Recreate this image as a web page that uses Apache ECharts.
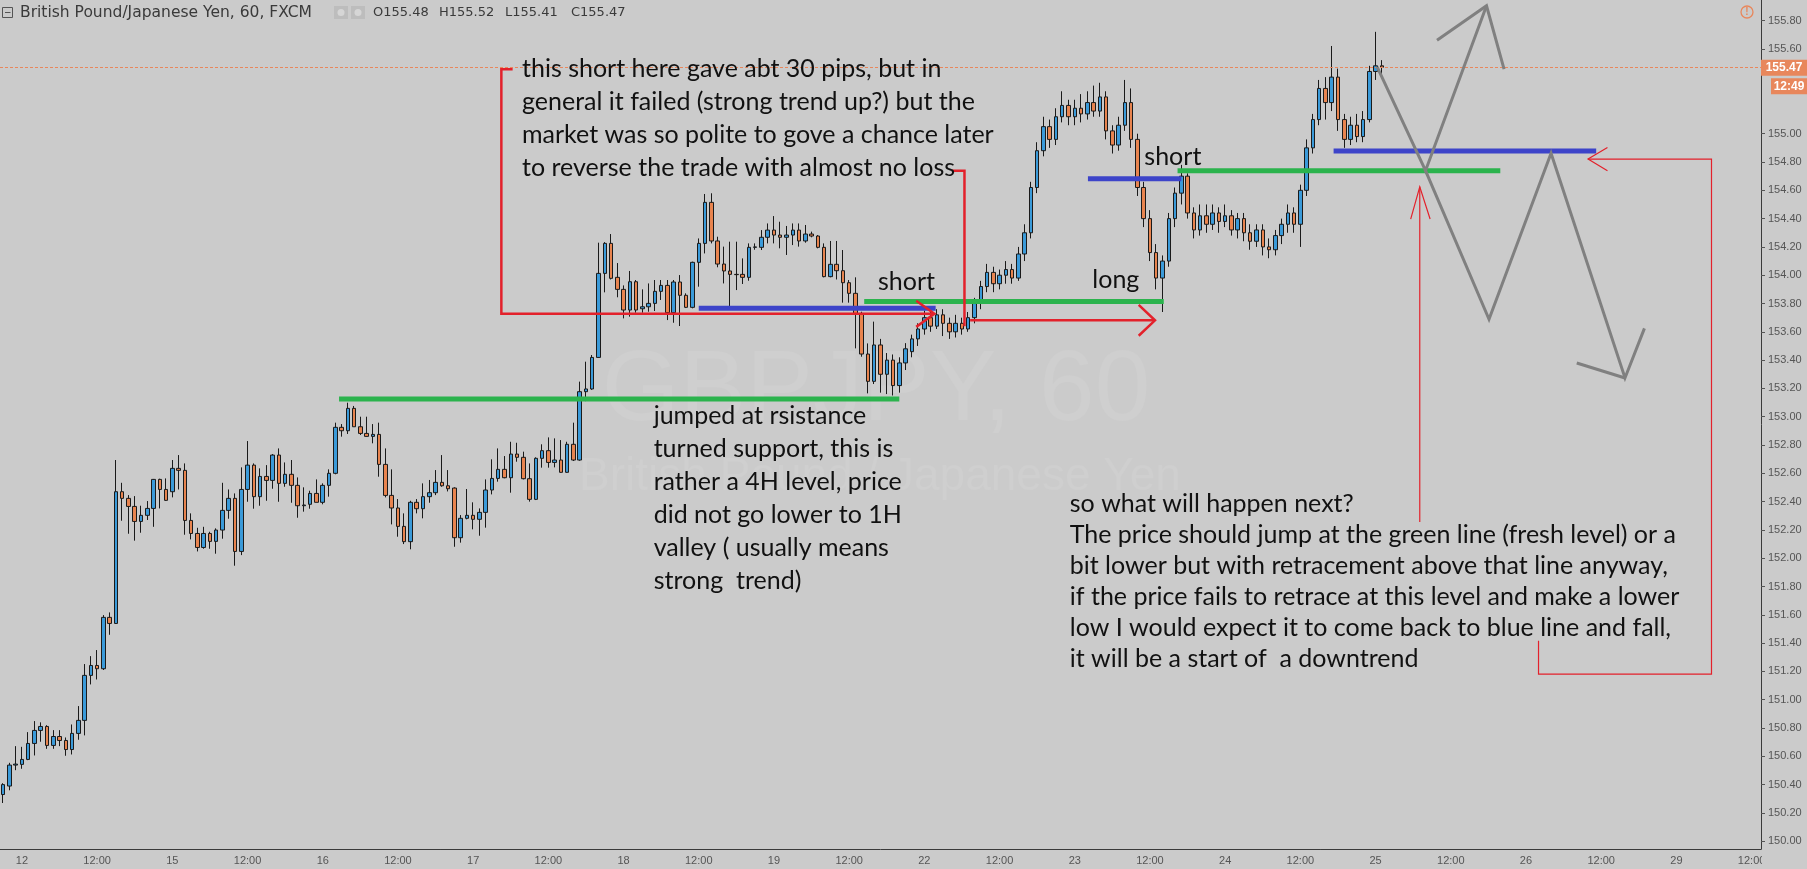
<!DOCTYPE html>
<html><head><meta charset="utf-8">
<script src="https://cdn.jsdelivr.net/npm/echarts@6/dist/echarts.min.js"></script>
<style>html,body{margin:0;padding:0;background:#cbcbcb;}#c{width:1807px;height:869px;}</style>
</head><body><div id="c"></div>
<script>
// ---- tick label data ----
const tradingDays = ['11','12','15','16','17','18','19','22','23','24','25','26','29'];
const firstIndex = -3;      // first slot = day 11, 21:00
const lastIndex = 277;      // last slot visible
const yTickValues = [150.0,150.2,150.4,150.6,150.8,151.0,151.2,151.4,151.6,151.8,152.0,152.2,152.4,152.6,152.8,153.0,153.2,153.4,153.6,153.8,154.0,154.2,154.4,154.6,154.8,155.0,155.6,155.8];
const lastPrice = 155.47;
const titleText = 'British Pound/Japanese Yen, 60, FXCM';
const headerValues = ['O155.48','H155.52','L155.41','C155.47'];

// ---- candles (hourly), from index -3 ----
const opens = [150.33,150.39,150.538,150.543,150.578,150.691,150.783,150.811,150.677,150.74,150.712,150.648,150.762,150.854,151.172,151.242,151.219,151.582,151.539,152.47,152.423,152.366,152.26,152.303,152.352,152.557,152.486,152.47,152.635,152.621,152.267,152.175,152.076,152.175,152.119,152.199,152.338,152.423,152.048,152.486,152.658,152.435,152.578,152.55,152.729,152.529,152.593,152.515,152.371,152.381,152.458,152.395,152.515,152.6,152.925,152.901,153.059,152.929,152.882,152.861,152.875,152.663,152.444,152.355,152.225,152.117,152.395,152.35,152.435,152.463,152.536,152.512,152.496,152.145,152.282,152.303,152.275,152.324,152.482,152.564,152.628,152.569,152.736,152.713,152.562,152.416,152.706,152.76,152.677,152.694,152.607,152.805,152.694,153.177,153.196,153.419,154.013,154.225,153.985,153.9,153.754,153.954,153.763,153.777,153.801,153.886,153.928,153.735,153.952,153.858,153.773,154.091,154.225,154.515,154.242,154.079,154.03,154.006,154.006,153.985,154.197,154.197,154.268,154.319,154.284,154.268,154.284,154.319,154.242,154.291,154.277,154.197,153.99,154.077,154.032,153.947,153.872,153.73,153.443,153.25,
153.507,153.30,153.40,153.22,153.38,153.46,153.55,153.62,153.70,153.64,153.72,153.66,153.60,153.66,153.62,153.70,153.80,153.92,154.02,153.94,154.00,154.04,153.98,154.15,154.30,154.62,154.88,155.05,154.96,155.12,155.20,155.12,155.18,155.14,155.22,155.16,155.26,155.02,154.92,155.06,155.22,154.96,154.62,154.40,154.16,153.98,154.10,154.40,154.58,154.70,154.44,154.32,154.42,154.36,154.44,154.38,154.42,154.32,154.40,154.30,154.24,154.32,154.20,154.18,154.28,154.36,154.44,154.36,154.60,154.90,155.10,155.32,155.22,155.40,155.10,154.96,155.06,154.98,155.10,155.44,155.48];
const closes = [150.40,150.538,150.545,150.578,150.691,150.783,150.811,150.677,150.74,150.712,150.648,150.762,150.854,151.172,151.242,151.219,151.582,151.539,152.47,152.423,152.366,152.26,152.303,152.352,152.557,152.486,152.409,152.635,152.621,152.267,152.175,152.076,152.175,152.119,152.199,152.338,152.423,152.048,152.486,152.658,152.435,152.578,152.55,152.729,152.529,152.593,152.515,152.371,152.376,152.458,152.395,152.515,152.6,152.925,152.901,153.059,152.929,152.882,152.861,152.875,152.663,152.444,152.355,152.225,152.117,152.395,152.35,152.435,152.463,152.536,152.512,152.491,152.145,152.282,152.303,152.275,152.324,152.482,152.564,152.628,152.569,152.736,152.713,152.562,152.416,152.706,152.76,152.677,152.694,152.607,152.805,152.694,153.177,153.196,153.419,154.013,154.225,153.978,153.9,153.754,153.954,153.754,153.777,153.801,153.886,153.928,153.735,153.952,153.858,153.773,154.091,154.225,154.515,154.242,154.079,154.03,154.006,154.004,153.985,154.197,154.2,154.268,154.319,154.284,154.268,154.284,154.319,154.242,154.291,154.277,154.197,153.99,154.077,154.032,153.947,153.872,153.73,153.443,153.25,153.507,
153.30,153.40,153.22,153.38,153.48,153.55,153.62,153.70,153.64,153.72,153.66,153.60,153.66,153.62,153.70,153.80,153.92,154.02,153.94,154.00,154.04,153.98,154.15,154.30,154.62,154.88,155.05,154.96,155.12,155.20,155.12,155.18,155.14,155.22,155.16,155.26,155.02,154.92,155.06,155.22,154.96,154.62,154.40,154.16,153.98,154.10,154.40,154.58,154.70,154.44,154.32,154.42,154.36,154.44,154.38,154.42,154.32,154.40,154.30,154.24,154.32,154.20,154.18,154.28,154.36,154.44,154.36,154.60,154.90,155.10,155.32,155.22,155.40,155.10,154.96,155.06,154.98,155.10,155.44,155.48,155.47];
const lows = [150.27,150.36,150.502,150.512,150.573,150.606,150.703,150.653,150.653,150.672,150.604,150.613,150.717,150.748,151.108,151.143,151.21,151.459,151.535,152.265,152.173,152.124,152.18,152.27,152.222,152.352,152.405,152.43,152.486,152.166,152.133,152.048,152.067,152.067,152.032,152.138,152.279,151.947,152.022,152.399,152.35,152.371,152.406,152.491,152.399,152.505,152.392,152.286,152.329,152.35,152.395,152.381,152.435,152.593,152.859,152.878,152.929,152.871,152.859,152.812,152.576,152.43,152.239,152.152,152.1,152.063,152.317,152.282,152.392,152.446,152.505,152.472,152.081,152.11,152.275,152.204,152.159,152.216,152.451,152.541,152.565,152.463,152.682,152.557,152.4,152.411,152.64,152.64,152.642,152.605,152.604,152.687,152.689,153.11,153.19,153.415,153.879,153.97,153.844,153.695,153.707,153.735,153.735,153.742,153.747,153.825,153.683,153.664,153.641,153.768,153.766,153.919,154.154,154.225,154.056,153.942,153.777,153.895,153.938,153.961,154.18,154.178,154.225,154.225,154.19,154.143,154.213,154.202,154.23,154.268,154.19,153.985,153.985,153.97,153.806,153.806,153.483,153.424,153.165,153.231,
153.17,153.16,153.15,153.17,153.33,153.42,153.50,153.58,153.60,153.62,153.57,153.55,153.56,153.58,153.60,153.66,153.76,153.88,153.88,153.90,153.94,153.94,153.96,154.10,154.26,154.58,154.84,154.90,154.92,155.08,155.06,155.06,155.08,155.10,155.12,155.12,154.96,154.86,154.88,155.02,154.90,154.56,154.34,154.10,153.90,153.74,154.06,154.34,154.50,154.40,154.26,154.28,154.30,154.32,154.30,154.34,154.28,154.26,154.24,154.18,154.20,154.14,154.12,154.14,154.22,154.30,154.30,154.20,154.56,154.86,155.06,155.10,155.16,155.02,154.90,154.92,154.94,154.94,155.08,155.38,155.41];
const highs = [150.41,150.554,150.672,150.667,150.771,150.849,150.84,150.82,150.785,150.785,150.733,150.825,150.955,151.252,151.308,151.351,151.598,151.617,152.694,152.533,152.446,152.439,152.371,152.404,152.56,152.562,152.564,152.694,152.729,152.67,152.317,152.215,152.222,152.187,152.211,152.533,152.486,152.458,152.642,152.828,152.67,152.635,152.658,152.736,152.776,152.677,152.694,152.571,152.501,152.477,152.557,152.529,152.628,152.958,152.948,153.099,153.076,153.0,153.0,152.948,152.958,152.776,152.628,152.418,152.317,152.406,152.418,152.529,152.553,152.623,152.729,152.623,152.501,152.305,152.489,152.395,152.352,152.557,152.699,152.776,152.722,152.823,152.816,152.753,152.67,152.713,152.805,152.854,152.847,152.835,152.823,152.958,153.248,153.389,153.436,154.23,154.234,154.291,154.086,153.928,154.03,153.966,153.9,153.942,153.966,153.966,153.966,153.966,154.001,153.872,154.096,154.26,154.574,154.579,154.272,154.202,154.237,154.237,154.119,154.225,154.225,154.319,154.366,154.418,154.378,154.348,154.366,154.366,154.355,154.308,154.284,154.225,154.242,154.242,154.178,153.966,153.985,153.742,153.518,153.672,
153.55,153.45,153.44,153.42,153.52,153.58,153.66,153.75,153.78,153.76,153.76,153.70,153.72,153.70,153.74,153.84,153.96,154.08,154.06,154.04,154.10,154.08,154.20,154.36,154.66,154.94,155.12,155.10,155.18,155.30,155.24,155.24,155.28,155.30,155.34,155.36,155.30,155.06,155.12,155.38,155.32,155.00,154.66,154.46,154.22,154.14,154.44,154.62,154.78,154.72,154.48,154.50,154.50,154.50,154.48,154.50,154.46,154.44,154.44,154.36,154.36,154.36,154.26,154.32,154.40,154.50,154.48,154.64,154.96,155.14,155.38,155.40,155.62,155.46,155.14,155.12,155.14,155.16,155.48,155.72,155.52];

// ---- annotation drawings, in [hour index, price] ----
const greenA  = [[50.6,153.125],[140.0,153.125]];
const blueB1  = [[108.0,153.766],[145.8,153.766]];
const greenG2 = [[134.4,153.815],[182.2,153.815]];
const blueB2  = [[170.1,154.682],[185.0,154.682]];
const greenG3 = [[184.4,154.739],[235.9,154.739]];
const blueB3  = [[209.3,154.878],[251.2,154.878]];
const redR1   = [[78.3,155.456],[76.5,155.456],[76.5,153.727],[145.4,153.727]];
const redR1Head = [[142.7,153.82],[145.6,153.727],[142.7,153.635]];
const redR2   = [[148.4,154.739],[150.4,154.739],[150.4,153.64]];
const redR2b  = [[151.3,153.681],[180.6,153.681]];
const redR2Head = [[178.2,153.79],[180.8,153.681],[178.2,153.572]];
const grayA   = [[216.25,155.472],[223.97,154.739],[233.7,155.904]];
const grayAHead = [[225.8,155.66],[233.7,155.904],[236.5,155.456]];
const grayB   = [[223.97,154.739],[234.1,153.689],[244.0,154.862],[255.8,153.274],[258.9,153.624]];
const grayBHead = [[248.1,153.38],[255.8,153.274]];
const redV    = [[223.05,152.256],[223.05,154.625]];
const redVHead = [[221.6,154.397],[223.05,154.625],[224.7,154.397]];
const redBracket = [[242.0,151.417],[242.0,151.181],[269.6,151.181],[269.6,154.821],[249.9,154.821]];
const redBracketHead = [[253.0,154.902],[249.9,154.821],[253.0,154.739]];

const note1 = ['this short here gave abt 30 pips, but in','general it failed (strong trend up?) but the','market was so polite to gove a chance later','to reverse the trade with almost no loss'];
const note2 = ['jumped at rsistance','turned support, this is','rather a 4H level, price','did not go lower to 1H','valley ( usually means','strong  trend)'];
const note3 = ['so what will happen next?','The price should jump at the green line (fresh level) or a','bit lower but with retracement above that line anyway,','if the price fails to retrace at this level and make a lower','low I would expect it to come back to blue line and fall,','it will be a start of  a downtrend'];
const noteAnchors = [[79.8,155.456],[100.8,153.005],[167.2,152.386]];
const tagTexts = [['short',136.6,153.95],['long',170.8,153.966],['short',179.1,154.837]];

// ---- build ----
const categories = [];
for (let i = firstIndex; i <= lastIndex; i++) {
  const d = tradingDays[Math.floor(i / 24) + 1];
  const h = ((i % 24) + 24) % 24;
  categories.push(d + '|' + h);
}
const candleData = opens.map((o, k) => [o, closes[k], lows[k], highs[k]]);
const showTick = (idx, val) => { const h = +val.split('|')[1]; return h === 0 || h === 12; };

const RED = '#e3212b', GREEN = '#2bb34d', BLUE = '#3d44c9', GRAY = '#808080';
function seg(data, color, width) {
  return { type: 'line', xAxisIndex: 1, yAxisIndex: 0, data: data, symbol: 'none', silent: true,
    animation: false, z: 5, lineStyle: { color: color, width: width, cap: 'butt', join: 'miter' } };
}

const chart = echarts.init(document.getElementById('c'), null, { renderer: 'canvas' });
chart.setOption({
  backgroundColor: '#cbcbcb',
  animation: false,
  grid: { left: 0, right: 46, top: 0, bottom: 20, containLabel: false },
  xAxis: [{
    type: 'category', data: categories, boundaryGap: true,
    axisLine: { onZero: false, lineStyle: { color: '#3a3a3a', width: 1 } },
    axisTick: { interval: showTick, alignWithLabel: true, length: 4, lineStyle: { color: '#555' } },
    axisLabel: { interval: showTick, color: '#555', fontSize: 11, fontFamily: 'Liberation Sans, Arial', margin: 6,
      formatter: v => { const p = v.split('|'); return p[1] === '0' ? p[0] : '12:00'; } },
    splitLine: { show: false }
  }, {
    type: 'value', min: firstIndex - 0.5, max: lastIndex + 0.5, show: false,
    axisLine: { onZero: false }
  }],
  yAxis: [{
    type: 'value', position: 'right', min: 149.945, max: 155.945, scale: true,
    axisLine: { show: true, onZero: false, lineStyle: { color: '#3a3a3a', width: 1 } },
    axisTick: { show: true, length: 4, customValues: yTickValues, lineStyle: { color: '#555' } },
    axisLabel: { customValues: yTickValues, color: '#555', fontSize: 11, fontFamily: 'Liberation Sans, Arial', margin: 7,
      formatter: v => v.toFixed(2) },
    splitLine: { show: false }
  }],
  series: [
    {
      type: 'candlestick', xAxisIndex: 0, yAxisIndex: 0, data: candleData, barWidth: 4, z: 3,
      itemStyle: { color: '#3a9ad9', color0: '#e8844f', borderColor: '#1a1a1a', borderColor0: '#1a1a1a', borderWidth: 1 },
      markLine: { silent: true, symbol: 'none', animation: false, label: { show: false },
        lineStyle: { color: '#e8875c', type: [3, 2], width: 1 }, data: [{ yAxis: lastPrice }] }
    },
    seg(greenA, GREEN, 5), seg(blueB1, BLUE, 5), seg(greenG2, GREEN, 5), seg(blueB2, BLUE, 5),
    seg(greenG3, GREEN, 5), seg(blueB3, BLUE, 5),
    seg(redR1, RED, 2.5), seg(redR1Head, RED, 2.5), seg(redR2, RED, 2.5), seg(redR2b, RED, 2.5), seg(redR2Head, RED, 2.5),
    seg(grayA, GRAY, 3), seg(grayAHead, GRAY, 3), seg(grayB, GRAY, 3), seg(grayBHead, GRAY, 3),
    seg(redV, RED, 1.2), seg(redVHead, RED, 1.2), seg(redBracket, RED, 1.2), seg(redBracketHead, RED, 1.2)
  ]
});

// ---- texts & decorations ----
const px = (pt) => chart.convertToPixel({ xAxisIndex: 1, yAxisIndex: 0 }, pt);
// fit header title to its measured span in the reference (~292px)
const mctx = document.createElement('canvas').getContext('2d');
mctx.font = '100px "DejaVu Sans"';
const titleSize = Math.max(12, Math.min(17, 100 * 292 / mctx.measureText(titleText).width));
const noteStyle = { fontSize: 25, fontFamily: 'Lato', fill: '#111' };
const lineHeights = [33, 33, 31];
const elements = [];
// watermark
elements.push({ type: 'text', z: 1, silent: true, style: { text: 'GBPJPY, 60', x: 876, y: 392, align: 'center', verticalAlign: 'middle', fontSize: 100, fontFamily: 'Liberation Sans', fill: 'rgba(255,255,255,0.08)' } });
elements.push({ type: 'text', z: 1, silent: true, style: { text: 'British Pound / Japanese Yen', x: 880, y: 477, align: 'center', verticalAlign: 'middle', fontSize: 46, fontFamily: 'Liberation Sans', fill: 'rgba(255,255,255,0.08)' } });
[note1, note2, note3].forEach((lines, k) => {
  const p = px(noteAnchors[k]);
  const lh = lineHeights[k];
  elements.push({ type: 'text', z: 50, silent: true, style: Object.assign({ text: lines.join('\n'), x: p[0], y: p[1] - lh / 2, align: 'left', verticalAlign: 'top', lineHeight: lh }, noteStyle) });
});
tagTexts.forEach(t => {
  const p = px([t[1], t[2]]);
  elements.push({ type: 'text', z: 50, silent: true, style: Object.assign({ text: t[0], x: p[0], y: p[1], align: 'left', verticalAlign: 'middle' }, noteStyle) });
});
// header
elements.push({ type: 'rect', z: 50, shape: { x: 2.5, y: 7.5, width: 10, height: 10 }, style: { fill: 'none', stroke: '#555', lineWidth: 1 } });
elements.push({ type: 'line', z: 50, shape: { x1: 5, y1: 12.5, x2: 10.5, y2: 12.5 }, style: { stroke: '#555', lineWidth: 1 } });
elements.push({ type: 'text', z: 50, style: { text: titleText, x: 20, y: 13, align: 'left', verticalAlign: 'middle', fontSize: titleSize, fontFamily: 'DejaVu Sans', fill: '#3a3a3a' } });
elements.push({ type: 'rect', z: 50, shape: { x: 334, y: 6, width: 14, height: 13 }, style: { fill: '#bdbdbd' } });
elements.push({ type: 'circle', z: 51, shape: { cx: 341, cy: 12.5, r: 3.5 }, style: { fill: '#d6d6d6' } });
elements.push({ type: 'rect', z: 50, shape: { x: 351, y: 6, width: 14, height: 13 }, style: { fill: '#bdbdbd' } });
elements.push({ type: 'circle', z: 51, shape: { cx: 358, cy: 12.5, r: 3.5 }, style: { fill: '#d6d6d6' } });
headerValues.forEach((t, k) => {
  elements.push({ type: 'text', z: 50, style: { text: t, x: 373 + k * 66, y: 13, align: 'left', verticalAlign: 'middle', fontSize: 13, fontFamily: 'DejaVu Sans', fill: '#3a3a3a' } });
});
// right panel tags
const ly = px([0, lastPrice])[1];
elements.push({ type: 'rect', z: 60, shape: { x: 1762, y: 849.5, width: 45, height: 20 }, style: { fill: '#cbcbcb' } });
elements.push({ type: 'rect', z: 60, shape: { x: 1761, y: ly - 7.5, width: 46, height: 16 }, style: { fill: '#e8875c' } });
elements.push({ type: 'text', z: 61, style: { text: lastPrice.toFixed(2), x: 1784, y: ly + 0.5, align: 'center', verticalAlign: 'middle', fontSize: 12, fontWeight: 'bold', fontFamily: 'Liberation Sans', fill: '#fff' } });
elements.push({ type: 'rect', z: 60, shape: { x: 1771, y: ly + 11, width: 36, height: 16 }, style: { fill: '#e8875c' } });
elements.push({ type: 'text', z: 61, style: { text: '12:49', x: 1789, y: ly + 19, align: 'center', verticalAlign: 'middle', fontSize: 12, fontWeight: 'bold', fontFamily: 'Liberation Sans', fill: '#fff' } });
elements.push({ type: 'circle', z: 60, shape: { cx: 1747, cy: 12, r: 6 }, style: { fill: 'none', stroke: '#e8875c', lineWidth: 1.3 } });
elements.push({ type: 'text', z: 61, style: { text: '!', x: 1747, y: 12.5, align: 'center', verticalAlign: 'middle', fontSize: 10, fontWeight: 'bold', fontFamily: 'Liberation Sans', fill: '#e8875c' } });
chart.setOption({ graphic: { elements: elements } });
</script>
</body></html>
